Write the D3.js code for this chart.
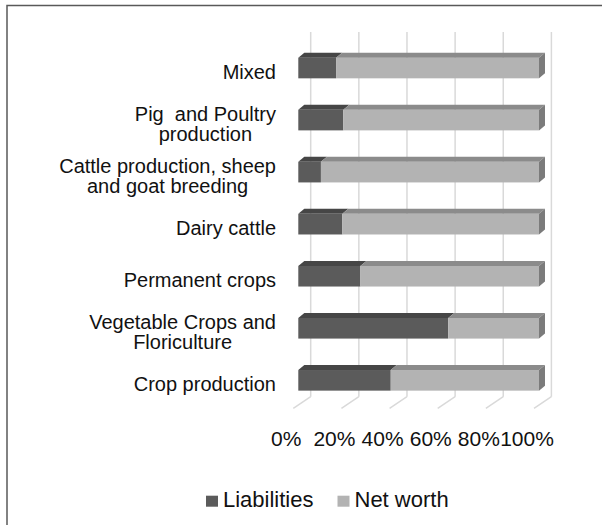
<!DOCTYPE html>
<html>
<head>
<meta charset="utf-8">
<script src="https://cdn.jsdelivr.net/npm/d3@7"></script>
<style>
  body { margin: 0; background: #fff; }
  text { font-family: "Liberation Sans", Arial, sans-serif; fill: #111; white-space: pre; }
</style>
</head>
<body>
<div id="chart"></div>
<script>
// categories, top to bottom as drawn
var categories = ["Mixed", "Pig  and Poultry production", "Cattle production, sheep and goat breeding",
                  "Dairy cattle", "Permanent crops", "Vegetable Crops and Floriculture", "Crop production"];
var catLines = [["Mixed"], ["Pig  and Poultry", "production"], ["Cattle production, sheep", "and goat breeding"],
                ["Dairy cattle"], ["Permanent crops"], ["Vegetable Crops and", "Floriculture"], ["Crop production"]];
var liabilities = [15.7, 18.7, 9.4, 18.3, 25.8, 62.3, 38.4];
var netWorth    = [84.3, 81.3, 90.6, 81.7, 74.2, 37.7, 61.6];
var ticks = [0, 20, 40, 60, 80, 100];
var tickLabels = ["0%", "20%", "40%", "60%", "80%", "100%"];
var seriesNames = ["Liabilities", "Net worth"];

var W = 602, H = 525;
var svg = d3.select("#chart").append("svg").attr("width", W).attr("height", H);

// outer frame (right / bottom edges fall outside the picture)
svg.append("rect").attr("x", 7).attr("y", 5.5).attr("width", 620).attr("height", 540)
   .attr("fill", "none").attr("stroke", "#595959").attr("stroke-width", 1.5);

var x = d3.scaleLinear().domain([0, 100]).range([298.3, 539]);
var y = d3.scaleBand().domain(categories).range([42, 406.35]).paddingInner(0.604).paddingOuter(0.302);

// 3d offsets
var dx = 6, dy = 5;          // bar depth
var wallDx = 12.4;           // back wall offset
var floorBack = 396.7, floorFront = 408.3, floorDx = 17.4;

// back wall gridlines
svg.selectAll("line.grid").data(ticks).enter().append("line")
   .attr("class", "grid")
   .attr("x1", function (d) { return x(d) + wallDx; })
   .attr("x2", function (d) { return x(d) + wallDx; })
   .attr("y1", 32).attr("y2", floorBack)
   .attr("stroke", "#d9d9d9").attr("stroke-width", 1.5);

// floor lines
svg.selectAll("line.floor").data(ticks).enter().append("line")
   .attr("class", "floor")
   .attr("x1", function (d) { return x(d) + wallDx; })
   .attr("y1", floorBack)
   .attr("x2", function (d) { return x(d) + wallDx - floorDx; })
   .attr("y2", floorFront)
   .attr("stroke", "#d9d9d9").attr("stroke-width", 1.5);

var colors = { front: ["#5b5b5b", "#b3b3b3"], top: ["#464646", "#8b8b8b"], side: "#7b7b7b" };

function topFace(a, b, y0) {
  return [[x(a), y0], [x(a) + dx, y0 - dy], [x(b) + dx, y0 - dy], [x(b), y0]];
}

categories.forEach(function (c, i) {
  var y0 = y(c), h = y.bandwidth();
  var segs = [[0, liabilities[i]], [liabilities[i], liabilities[i] + netWorth[i]]];
  var g = svg.append("g");
  segs.forEach(function (s, k) {
    g.append("rect")
      .attr("x", x(s[0])).attr("y", y0)
      .attr("width", x(s[1]) - x(s[0])).attr("height", h)
      .attr("fill", colors.front[k]);
    g.append("polygon")
      .attr("points", topFace(s[0], s[1], y0).join(" "))
      .attr("fill", colors.top[k]);
  });
  var xe = x(segs[1][1]);
  g.append("polygon")
    .attr("points", [[xe, y0], [xe + dx, y0 - dy], [xe + dx, y0 + h - dy], [xe, y0 + h]].join(" "))
    .attr("fill", colors.side);
});

// category labels
var labelRight = 276, lineH = 20, labelShift = 4;
categories.forEach(function (c, i) {
  var lines = catLines[i];
  var t = svg.append("text").attr("font-size", "20px").attr("text-anchor", "middle");
  var cy = y(c) + y.bandwidth() / 2 + labelShift;
  var spans = t.selectAll("tspan").data(lines).enter().append("tspan")
    .text(function (d) { return d; })
    .attr("y", function (d, k) { return cy + (k - (lines.length - 1) / 2) * lineH + 7; });
  var wMax = 0;
  spans.each(function () { wMax = Math.max(wMax, this.getComputedTextLength()); });
  spans.attr("x", labelRight - wMax / 2);
});

// tick labels
svg.selectAll("text.tick").data(ticks).enter().append("text")
   .attr("class", "tick")
   .attr("x", function (d) { return x(d) - 12; })
   .attr("y", 446)
   .attr("text-anchor", "middle")
   .attr("font-size", "21px")
   .text(function (d, i) { return tickLabels[i]; });

// legend
var lx = 206;
seriesNames.forEach(function (s, k) {
  svg.append("rect").attr("x", lx).attr("y", 495.7).attr("width", 12).attr("height", 11)
     .attr("fill", colors.front[k]);
  var t = svg.append("text").attr("x", lx + 17).attr("y", 507.3).attr("font-size", "22px").text(s);
  lx = lx + 17 + t.node().getComputedTextLength() + 24;
});
</script>
</body>
</html>
